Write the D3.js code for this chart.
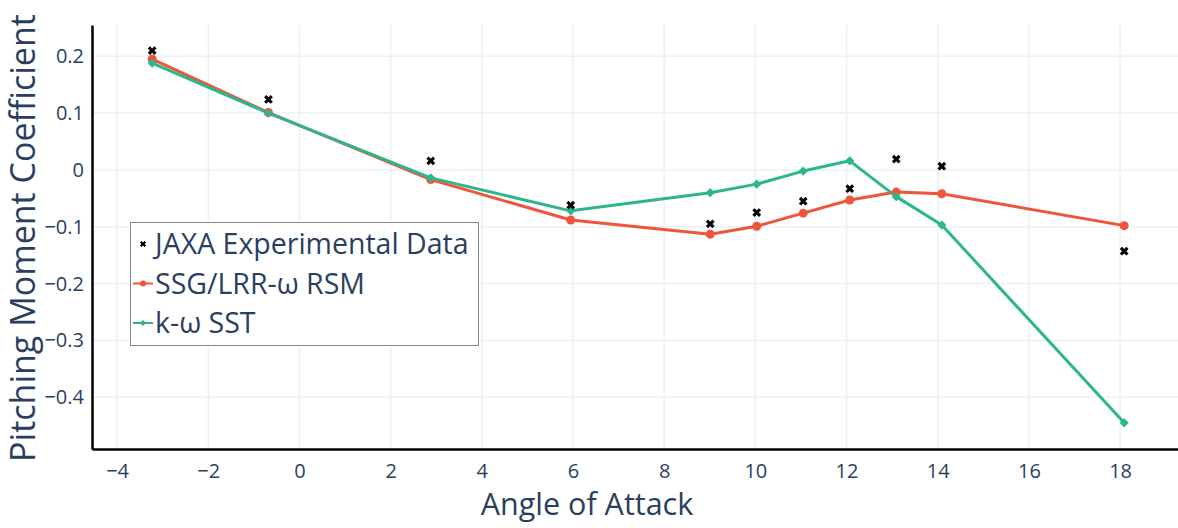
<!DOCTYPE html>
<html>
<head>
<meta charset="utf-8">
<script src="https://cdn.jsdelivr.net/npm/d3@7"></script>
<style>
  body { margin: 0; background: #fff; }
  svg { display: block; font-family: "Open Sans", sans-serif; }
</style>
</head>
<body>
<div id="chart"></div>
<script>
// angle of attack (deg)
const aoa = [-3.23, -0.68, 2.88, 5.95, 9.01, 10.03, 11.05, 12.07, 13.09, 14.09, 18.09];
const jaxa = [0.21, 0.124, 0.016, -0.062, -0.095, -0.075, -0.055, -0.033, 0.019, 0.0065, -0.143];
const rsm = [0.195, 0.101, -0.017, -0.088, -0.113, -0.099, -0.076, -0.053, -0.039, -0.042, -0.098];
const sst = [0.188, 0.100, -0.014, -0.072, -0.040, -0.025, -0.002, 0.016, -0.047, -0.097, -0.445];

const xTicks = [-4, -2, 0, 2, 4, 6, 8, 10, 12, 14, 16, 18];
const yTicks = [0.2, 0.1, 0, -0.1, -0.2, -0.3, -0.4];

const seriesNames = ['JAXA Experimental Data', 'SSG/LRR-ω RSM', 'k-ω SST'];

const W = 1178, H = 528;
const TEXT = '#2a3f5f';
const RED = '#ef553b';
const GREEN = '#2db68c';
const GRID = '#ebf0f8';

const svg = d3.select('#chart').append('svg')
    .attr('width', W)
    .attr('height', H);

const x = d3.scaleLinear().domain([-4.55, 19.27]).range([92, 1178]);
const y = d3.scaleLinear().domain([-0.491, 0.255]).range([449, 25]);

const fmt = v => v === 0 ? '0' : d3.format('')(v).replace('-', '\u2212');

// grid
svg.append('g')
    .selectAll('line')
    .data(xTicks)
    .enter()
    .append('line')
    .attr('x1', d => x(d)).attr('x2', d => x(d))
    .attr('y1', y.range()[1]).attr('y2', y.range()[0])
    .attr('stroke', GRID).attr('stroke-width', 1.5);

svg.append('g')
    .selectAll('line')
    .data(yTicks)
    .enter()
    .append('line')
    .attr('x1', x.range()[0]).attr('x2', x.range()[1])
    .attr('y1', d => y(d)).attr('y2', d => y(d))
    .attr('stroke', GRID).attr('stroke-width', 1.5);

// axes
const xAxis = svg.append('g')
    .attr('transform', `translate(0,${y.range()[0]})`)
    .call(d3.axisBottom(x).tickValues(xTicks).tickFormat(fmt).tickSize(0).tickPadding(15));
xAxis.select('.domain').attr('stroke', '#000').attr('stroke-width', 2.5);
xAxis.selectAll('text').attr('font-size', 20).attr('fill', TEXT).attr('font-family', '"Open Sans", sans-serif');

const yAxis = svg.append('g')
    .attr('transform', `translate(${x.range()[0]},0)`)
    .call(d3.axisLeft(y).tickValues(yTicks).tickFormat(fmt).tickSize(0).tickPadding(8));
yAxis.select('.domain').attr('stroke', '#000').attr('stroke-width', 2.5);
yAxis.selectAll('text').attr('font-size', 20).attr('fill', TEXT).attr('font-family', '"Open Sans", sans-serif');

// axis titles
svg.append('text')
    .attr('x', 587)
    .attr('y', 515)
    .attr('text-anchor', 'middle')
    .attr('font-size', 30.5)
    .attr('fill', TEXT)
    .text('Angle of Attack');

svg.append('text')
    .attr('transform', 'translate(35,238) rotate(-90)')
    .attr('text-anchor', 'middle')
    .attr('font-size', 34)
    .attr('fill', TEXT)
    .text('Pitching Moment Coefficient');

// lines
const line = vals => d3.line()
    .x((d, i) => x(aoa[i]))
    .y(d => y(d))(vals);

svg.append('path')
    .attr('d', line(rsm))
    .attr('fill', 'none')
    .attr('stroke', RED)
    .attr('stroke-width', 3)
    .attr('stroke-linejoin', 'round');

svg.append('path')
    .attr('d', line(sst))
    .attr('fill', 'none')
    .attr('stroke', GREEN)
    .attr('stroke-width', 3)
    .attr('stroke-linejoin', 'round');

const diamond = d3.symbol().type(d3.symbolSquare).size(42);
const cross = d3.symbol().type(d3.symbolCross).size(48);

svg.append('g')
    .selectAll('circle')
    .data(rsm)
    .enter()
    .append('circle')
    .attr('cx', (d, i) => x(aoa[i]))
    .attr('cy', d => y(d))
    .attr('r', 4.5)
    .attr('fill', RED);

svg.append('g')
    .selectAll('path')
    .data(sst)
    .enter()
    .append('path')
    .attr('d', diamond)
    .attr('transform', (d, i) => `translate(${x(aoa[i])},${y(d)}) rotate(45)`)
    .attr('fill', GREEN);

svg.append('g')
    .selectAll('path')
    .data(jaxa)
    .enter()
    .append('path')
    .attr('d', cross)
    .attr('transform', (d, i) => `translate(${x(aoa[i])},${y(d)}) rotate(45)`)
    .attr('fill', '#000');

// legend
const legend = svg.append('g').attr('transform', 'translate(130,222)');
legend.append('rect')
    .attr('x', 0.5).attr('y', 0.5)
    .attr('width', 348).attr('height', 123)
    .attr('fill', '#fff')
    .attr('stroke', '#888')
    .attr('stroke-width', 1);

const rows = legend.selectAll('g.row')
    .data(seriesNames)
    .enter()
    .append('g')
    .attr('class', 'row')
    .attr('transform', (d, i) => `translate(0,${22 + i * 39.5})`);

rows.append('text')
    .attr('x', 25)
    .attr('y', 10)
    .attr('font-size', 28.5)
    .attr('fill', TEXT)
    .text(d => d);

rows.filter((d, i) => i > 0).append('line')
    .attr('x1', 3).attr('x2', 23)
    .attr('y1', 0).attr('y2', 0)
    .attr('stroke', (d, i) => i === 0 ? RED : GREEN)
    .attr('stroke-width', 2);

legend.append('path')
    .attr('d', d3.symbol().type(d3.symbolCross).size(24))
    .attr('transform', 'translate(13,22) rotate(45)')
    .attr('fill', '#000');
legend.append('circle')
    .attr('cx', 13).attr('cy', 61.5).attr('r', 3)
    .attr('fill', RED);
legend.append('path')
    .attr('d', d3.symbol().type(d3.symbolSquare).size(18))
    .attr('transform', 'translate(13,101) rotate(45)')
    .attr('fill', GREEN);
</script>
</body>
</html>
